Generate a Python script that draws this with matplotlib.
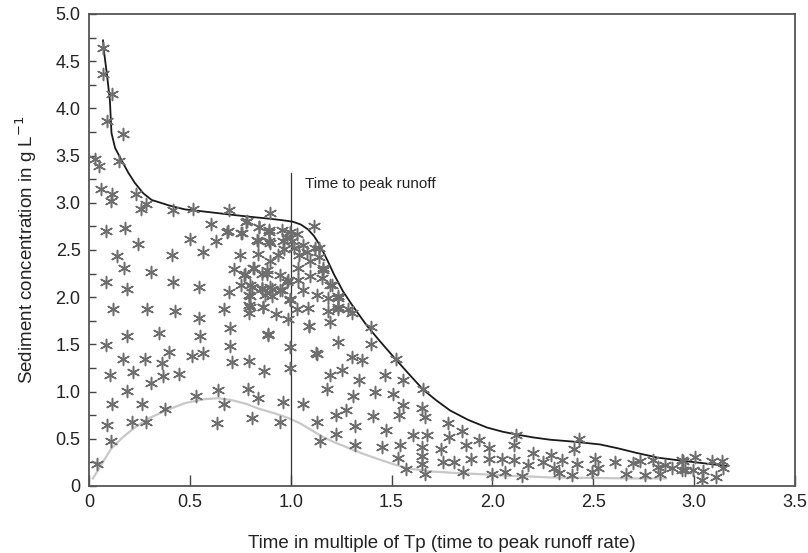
import matplotlib
matplotlib.use("Agg")
import matplotlib.pyplot as plt
from matplotlib.ticker import MultipleLocator, FixedLocator, FixedFormatter

# measured sediment concentration samples (time / Tp, g per L)
obs_t = [
    0.071, 0.071, 0.116, 0.091, 0.167, 0.030, 0.050, 0.150, 0.060, 0.117,
    0.112, 0.236, 0.281, 0.258, 0.418, 0.517, 0.694, 0.900, 0.083, 0.178,
    0.605, 0.690, 0.754, 0.785, 0.843, 0.894, 0.955, 0.500, 0.628, 0.245,
    0.894, 0.836, 1.117, 0.137, 0.410, 0.567, 0.749, 0.836, 0.174, 0.306,
    0.083, 0.190, 0.418, 0.545, 0.720, 0.770, 0.818, 0.881, 0.754, 0.800,
    0.856, 0.906, 0.947, 0.980, 0.696, 0.793, 0.873, 0.997, 0.120, 0.290,
    0.426, 0.545, 0.671, 0.795, 0.795, 0.864, 0.927, 0.988, 0.187, 0.349,
    0.550, 0.699, 0.886, 0.083, 0.699, 0.997, 0.167, 0.278, 0.398, 0.509,
    0.567, 0.360, 0.707, 0.795, 0.104, 0.220, 0.306, 0.368, 0.446, 0.868,
    0.997, 0.187, 0.530, 0.641, 0.787, 0.840, 0.116, 0.261, 0.377, 0.671,
    0.960, 1.063, 0.091, 0.212, 0.283, 0.636, 0.810, 0.947, 1.132, 0.108,
    1.145, 0.041, 1.178, 1.195, 1.132, 1.090, 1.195,
    0.780, 0.686, 0.757, 0.845, 0.894, 0.997, 1.033, 0.834, 0.900, 0.963,
    0.980, 1.005, 1.016, 1.059, 1.082, 1.120, 1.142, 0.938, 0.967, 1.043,
    0.897, 1.096, 0.773, 0.815, 0.856, 0.881, 0.947, 1.038, 1.096, 1.162,
    1.153, 0.806, 0.856, 0.897, 0.955, 0.988, 1.038, 1.063, 1.195, 0.798,
    0.906, 1.129, 1.186, 1.236, 0.997, 0.798, 0.864, 1.030, 1.087, 1.186,
    1.236, 1.286, 0.889,
    1.142, 1.162, 1.203, 1.236, 1.236, 1.302, 1.092, 1.398, 1.236, 1.398,
    1.125, 1.302, 1.352, 1.522, 1.253, 1.340, 1.468, 1.555, 1.307, 1.418,
    1.506, 1.654, 1.555, 1.649, 1.274, 1.225, 1.406, 1.538, 1.666, 1.319,
    1.472, 1.781, 1.851, 1.225, 1.605, 1.674, 1.786, 1.934, 2.117, 1.319,
    1.451, 1.542, 1.649, 1.743, 1.869, 1.985, 2.109, 2.203, 1.533, 1.649,
    1.753, 1.810, 1.892, 1.985, 2.046, 2.109, 2.178, 2.253, 1.572, 1.649,
    1.666, 1.856, 1.997, 2.062, 2.145,
    2.431, 2.405, 2.289, 2.343, 2.305, 2.332, 2.393, 2.421, 2.509, 2.525,
    2.492, 2.608, 2.662, 2.699, 2.733, 2.757, 2.798, 2.823, 2.832, 2.856,
    2.889, 2.938, 2.938, 3.004, 2.947, 2.955, 2.996, 3.046, 3.037, 3.086,
    3.136, 3.145, 3.109,
]
obs_c = [
    4.64, 4.36, 4.15, 3.87, 3.73, 3.46, 3.39, 3.44, 3.15, 3.09,
    3.02, 3.09, 2.99, 2.93, 2.92, 2.93, 2.92, 2.89, 2.70, 2.73,
    2.77, 2.70, 2.68, 2.81, 2.74, 2.71, 2.71, 2.62, 2.60, 2.56,
    2.60, 2.60, 2.75, 2.44, 2.45, 2.48, 2.45, 2.46, 2.31, 2.27,
    2.16, 2.09, 2.16, 2.11, 2.30, 2.24, 2.31, 2.25, 2.13, 2.13,
    2.09, 2.09, 2.08, 2.16, 2.05, 2.02, 2.02, 1.97, 1.88, 1.88,
    1.85, 1.78, 1.88, 1.92, 1.83, 1.90, 1.82, 1.77, 1.59, 1.62,
    1.59, 1.67, 1.60, 1.49, 1.48, 1.47, 1.35, 1.35, 1.42, 1.38,
    1.41, 1.30, 1.31, 1.32, 1.18, 1.21, 1.09, 1.16, 1.19, 1.22,
    1.25, 1.01, 0.95, 1.02, 1.03, 0.93, 0.87, 0.87, 0.82, 0.87,
    0.89, 0.87, 0.65, 0.68, 0.68, 0.67, 0.72, 0.68, 0.68, 0.48,
    0.48, 0.23, 1.03, 1.18, 1.40, 1.69, 1.74,
    2.80, 2.69, 2.68, 2.74, 2.69, 2.69, 2.67, 2.61, 2.57, 2.59,
    2.64, 2.59, 2.52, 2.55, 2.48, 2.52, 2.43, 2.45, 2.51, 2.45,
    2.38, 2.38, 2.25, 2.31, 2.25, 2.29, 2.24, 2.31, 2.22, 2.29,
    2.20, 2.11, 2.10, 2.11, 2.08, 2.18, 2.18, 2.08, 2.13, 2.01,
    2.01, 2.02, 1.99, 1.99, 1.98, 1.90, 1.90, 1.88, 1.89, 1.85,
    1.88, 1.88, 1.61,
    2.52, 2.31, 2.13, 2.01, 1.90, 1.83, 1.69, 1.68, 1.53, 1.50,
    1.41, 1.37, 1.33, 1.35, 1.23, 1.12, 1.18, 1.12, 0.95, 1.00,
    0.97, 1.03, 0.86, 0.83, 0.81, 0.75, 0.74, 0.75, 0.73, 0.64,
    0.59, 0.67, 0.58, 0.55, 0.54, 0.54, 0.52, 0.49, 0.54, 0.43,
    0.41, 0.43, 0.41, 0.39, 0.43, 0.40, 0.43, 0.35, 0.30, 0.32,
    0.25, 0.25, 0.29, 0.29, 0.29, 0.28, 0.22, 0.25, 0.18, 0.23,
    0.13, 0.15, 0.13, 0.15, 0.11,
    0.50, 0.39, 0.33, 0.28, 0.19, 0.14, 0.12, 0.23, 0.29, 0.19,
    0.15, 0.25, 0.13, 0.24, 0.26, 0.12, 0.27, 0.20, 0.13, 0.22,
    0.19, 0.28, 0.17, 0.31, 0.26, 0.17, 0.17, 0.16, 0.06, 0.26,
    0.26, 0.19, 0.09,
]

# upper envelope (black)
upper_t = [0.070, 0.074, 0.090, 0.104, 0.112, 0.130, 0.162, 0.195, 0.228, 0.270,
           0.311, 0.400, 0.476, 0.560, 0.641, 0.720, 0.807, 0.900, 0.960, 1.010,
           1.050, 1.085, 1.115, 1.145, 1.180, 1.215, 1.260, 1.310, 1.377, 1.440,
           1.509, 1.580, 1.657, 1.720, 1.790, 1.880, 1.972, 2.050, 2.120, 2.200,
           2.286, 2.400, 2.533, 2.620, 2.715, 2.820, 2.930, 3.050, 3.170]
upper_c = [4.72, 4.62, 4.35, 4.09, 3.74, 3.58, 3.45, 3.32, 3.21, 3.10,
           3.03, 2.97, 2.93, 2.91, 2.89, 2.87, 2.85, 2.83, 2.815, 2.80,
           2.77, 2.72, 2.65, 2.55, 2.40, 2.24, 2.06, 1.90, 1.70, 1.54,
           1.37, 1.20, 1.02, 0.91, 0.80, 0.70, 0.62, 0.575, 0.545, 0.515,
           0.49, 0.47, 0.44, 0.40, 0.35, 0.30, 0.27, 0.24, 0.21]

# lower envelope (light grey)
lower_t = [0.020, 0.046, 0.080, 0.112, 0.170, 0.228, 0.300, 0.393, 0.480, 0.575,
           0.640, 0.707, 0.780, 0.840, 0.920, 0.988, 1.050, 1.104, 1.160, 1.220,
           1.290, 1.360, 1.440, 1.525, 1.600, 1.690, 1.800, 1.939, 2.060, 2.186,
           2.286, 2.500, 2.700, 2.860]
lower_c = [0.08, 0.17, 0.29, 0.40, 0.52, 0.62, 0.72, 0.81, 0.88, 0.92,
           0.93, 0.91, 0.87, 0.82, 0.77, 0.72, 0.66, 0.59, 0.52, 0.46,
           0.40, 0.34, 0.28, 0.22, 0.18, 0.155, 0.14, 0.125, 0.11, 0.10,
           0.09, 0.085, 0.08, 0.08]

x_ticks = [0, 0.5, 1.0, 1.5, 2.0, 2.5, 3.0, 3.5]
x_labels = ["0", "0.5", "1.0", "1.5", "2.0", "2.5", "3.0", "3.5"]
y_ticks = [0, 0.5, 1.0, 1.5, 2.0, 2.5, 3.0, 3.5, 4.0, 4.5, 5.0]
y_labels = ["0", "0.5", "1.0", "1.5", "2.0", "2.5", "3.0", "3.5", "4.0", "4.5", "5.0"]

tp = 1.0
tp_top = 3.32

plt.rcParams['font.family'] = ['Liberation Sans Narrow', 'Liberation Sans', 'DejaVu Sans']

fig = plt.figure(figsize=(8.08, 5.53), dpi=100)
ax = fig.add_axes([0.110, 0.1212, 0.874, 0.8535])

ax.plot(lower_t, lower_c, color="#c8c8c8", lw=1.6, zorder=2)
ax.plot(upper_t, upper_c, color="#1a1a1a", lw=1.3, zorder=3)
ax.plot([tp, tp], [0, tp_top], color="#333333", lw=0.9, zorder=2)
ax.scatter(obs_t, obs_c, marker=(6, 2, 0), s=75, color="#6e6e6e",
           linewidths=1.1, zorder=4)
ax.text(1.071, 3.2, "Time to peak runoff", fontsize=11, color="#222222",
        va="center", ha="left")

ax.set_xlim(0, 3.5)
ax.set_ylim(0, 5.0)
ax.xaxis.set_major_locator(FixedLocator(x_ticks))
ax.xaxis.set_major_formatter(FixedFormatter(x_labels))
ax.yaxis.set_major_locator(FixedLocator(y_ticks))
ax.yaxis.set_major_formatter(FixedFormatter(y_labels))
ax.yaxis.set_minor_locator(MultipleLocator(0.25))

ax.tick_params(axis="x", direction="in", length=8, width=1.0, colors="#444444",
               labelcolor="#222222", labelsize=13, pad=6)
ax.tick_params(axis="y", which="both", direction="in", length=5, width=1.0,
               colors="#444444", labelcolor="#222222", labelsize=13, pad=6)

for sp in ax.spines.values():
    sp.set_color("#555555")
    sp.set_linewidth(1.3)

ax.set_xlabel("Time in multiple of Tp (time to peak runoff rate)", fontsize=13.5,
              color="#222222", labelpad=17)
ax.set_ylabel("Sediment concentration in g L$^{-1}$", fontsize=13.5,
              color="#222222", labelpad=12)

fig.savefig("out.png", dpi=100)
